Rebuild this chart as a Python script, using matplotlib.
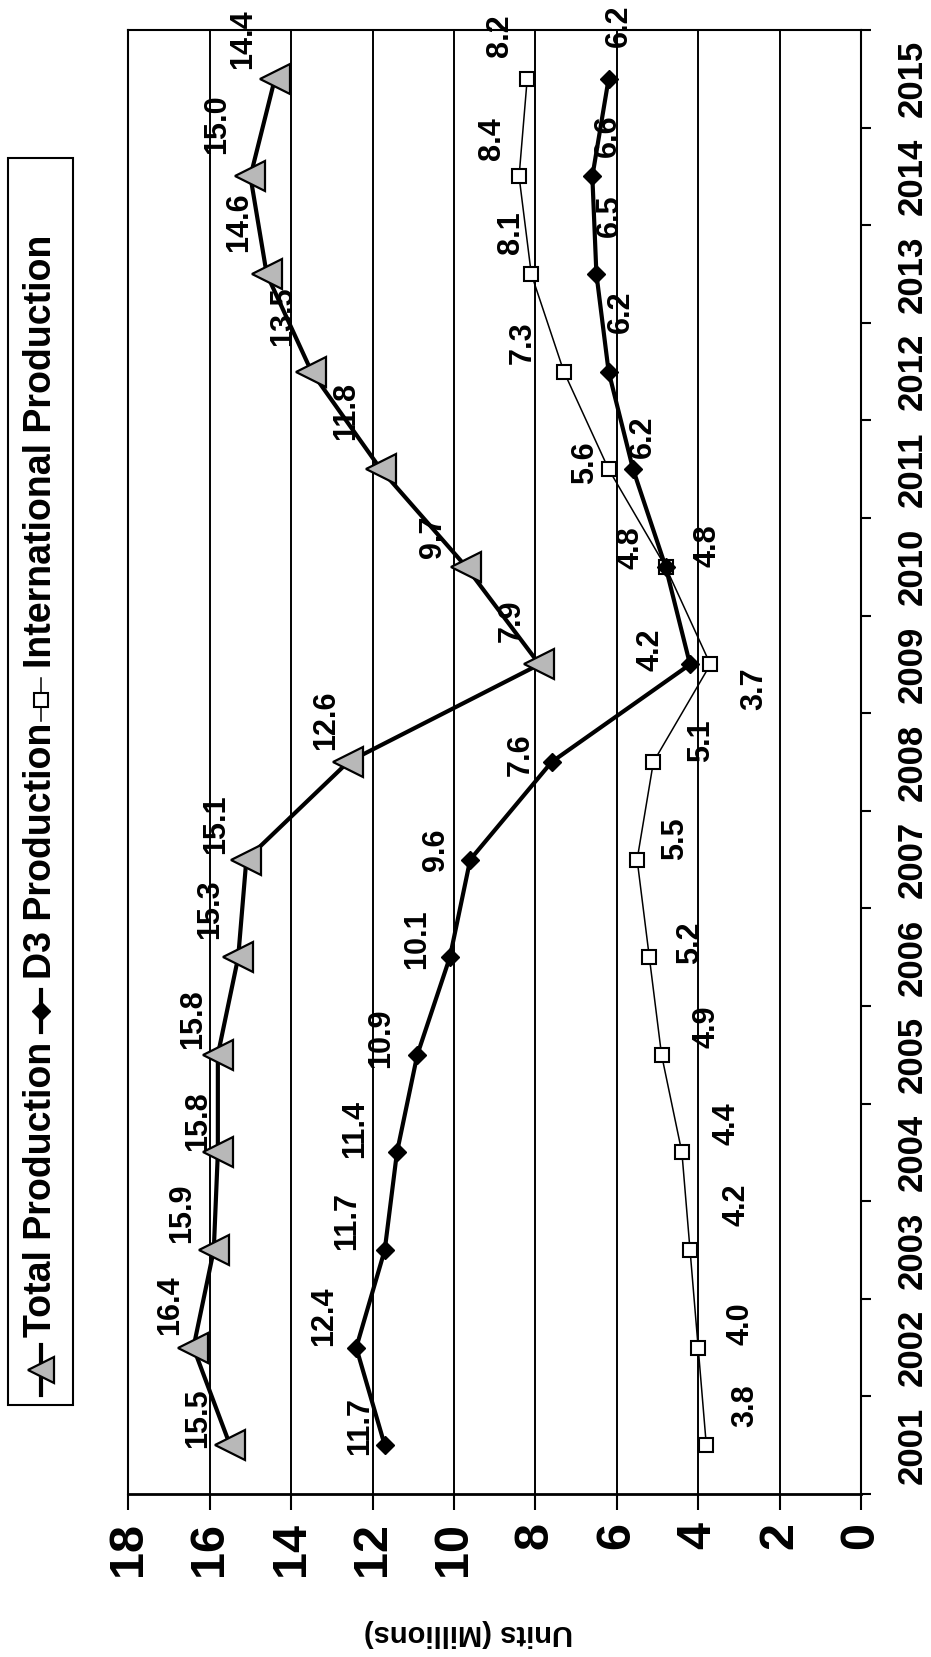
import matplotlib
matplotlib.use('Agg')
import matplotlib.pyplot as plt
from matplotlib.lines import Line2D
from matplotlib.patches import Rectangle

plt.rcParams['font.family'] = ['Liberation Sans', 'DejaVu Sans']

# ---------------- data ----------------
years = ['2001', '2002', '2003', '2004', '2005', '2006', '2007', '2008',
         '2009', '2010', '2011', '2012', '2013', '2014', '2015']
total = [15.5, 16.4, 15.9, 15.8, 15.8, 15.3, 15.1, 12.6, 7.9, 9.7, 11.8, 13.5, 14.6, 15.0, 14.4]
d3 = [11.7, 12.4, 11.7, 11.4, 10.9, 10.1, 9.6, 7.6, 4.2, 4.8, 5.6, 6.2, 6.5, 6.6, 6.2]
intl = [3.8, 4.0, 4.2, 4.4, 4.9, 5.2, 5.5, 5.1, 3.7, 4.8, 6.2, 7.3, 8.1, 8.4, 8.2]
total_labels = ['15.5', '16.4', '15.9', '15.8', '15.8', '15.3', '15.1', '12.6', '7.9', '9.7',
                '11.8', '13.5', '14.6', '15.0', '14.4']
d3_labels = ['11.7', '12.4', '11.7', '11.4', '10.9', '10.1', '9.6', '7.6', '4.2', '4.8',
             '6.2', '6.2', '6.5', '6.6', '6.2']
intl_labels = ['3.8', '4.0', '4.2', '4.4', '4.9', '5.2', '5.5', '5.1', '3.7', '4.8',
               '5.6', '7.3', '8.1', '8.4', '8.2']
value_ticks = [0, 2, 4, 6, 8, 10, 12, 14, 16, 18]
series_names = ['Total Production', 'D3 Production', 'International Production']
axis_title = 'Units (Millions)'

# label placement offsets (value units, category units)
total_dv = [0.78, 0.57, 0.78, 0.49, 0.61, 0.70, 0.74, 0.53, 0.69, 0.82, 0.86, 0.70, 0.67, 0.82, 0.78]
total_dy = [0.28, 0.43, 0.38, 0.32, 0.37, 0.49, 0.36, 0.43, 0.45, 0.31, 0.60, 0.57, 0.53, 0.53, 0.41]
d3_dv = [0.61, 0.79, 0.93, 1.03, 0.88, 0.80, 0.83, 0.76, 0.98, 0.86, -0.25, -0.30, -0.33, -0.37, -0.25]
d3_dy = [0.20, 0.32, 0.30, 0.24, 0.17, 0.18, 0.10, 0.08, 0.15, 0.20, 0.33, 0.61, 0.60, 0.42, 0.54]
intl_dv = [-0.95, -1.05, -1.15, -1.10, -1.10, -1.00, -0.93, -1.17, -1.08, -1.02, 0.59, 1.00, 0.51, 0.66, 0.66]
intl_dy = [0.41, 0.25, 0.46, 0.29, 0.29, 0.15, 0.21, 0.22, -0.25, 0.22, 0.07, 0.30, 0.42, 0.39, 0.44]

# ---------------- figure ----------------
W, H = 931, 1657
fig = plt.figure(figsize=(W / 100, H / 100), dpi=100)
fig.patch.set_facecolor('white')


def fx(px):
    return px / W


def fy(py):
    return 1 - py / H


ax = fig.add_axes([fx(128.3), fy(1494), fx(861) - fx(128.3), fy(30) - fy(1494)])
pos = list(range(len(years)))

ax.plot(intl, pos, color='black', lw=1.1, marker='s', ms=10, mfc='white',
        mec='black', mew=1.5, zorder=3)
ax.plot(d3, pos, color='black', lw=3.0, marker='D', ms=9, mfc='black',
        mec='black', mew=1.0, zorder=3.2)
ax.plot(total, pos, color='black', lw=3.0, marker='<', ms=21, mfc='#b8b8b8',
        mec='black', mew=1.6, zorder=3.4)

lab_kw = dict(rotation=90, ha='center', va='center', fontsize=22,
              fontweight='bold', color='black', zorder=2.6)
for i in pos:
    ax.text(total[i] + total_dv[i], i + total_dy[i], total_labels[i], **lab_kw)
    ax.text(d3[i] + d3_dv[i], i + d3_dy[i], d3_labels[i], **lab_kw)
    ax.text(intl[i] + intl_dv[i], i + intl_dy[i], intl_labels[i], **lab_kw)

ax.set_xlim(18, 0)
ax.set_ylim(-0.5, len(years) - 0.5)

ax.set_xticks(value_ticks)
ax.set_xticklabels([str(v) for v in value_ticks], rotation=90, fontsize=35,
                   fontweight='bold')
ax.tick_params(axis='x', direction='out', length=11.5, width=1.5, pad=9)
ax.grid(axis='x', color='black', linewidth=1.4, zorder=1)
ax.set_axisbelow(True)

ax.yaxis.tick_right()
ax.set_yticks([i - 0.5 for i in range(len(years) + 1)])
ax.set_yticklabels([])
ax.set_yticks(pos, minor=True)
ax.set_yticklabels(years, minor=True, rotation=90, fontsize=25,
                   fontweight='bold', va='center')
ax.tick_params(axis='y', which='major', direction='out', length=7, width=1.5,
               right=True, left=False)
ax.tick_params(axis='y', which='minor', length=0, pad=25, right=True,
               left=False, labelright=True, labelleft=False)

for s in ['left', 'top', 'right']:
    ax.spines[s].set_linewidth(1.5)
ax.spines['bottom'].set_linewidth(2.0)

fig.text(fx(468), fy(1633), axis_title, rotation=180, ha='center', va='center',
         fontsize=21, fontweight='bold')

# ---------------- legend (rotated) ----------------
fig.add_artist(Rectangle((fx(8), fy(1405)), fx(73) - fx(8), fy(158) - fy(1405),
                         transform=fig.transFigure, fill=False,
                         edgecolor='black', linewidth=1.5))
leg_x = 41
entries = [
    (1395, 1345, 1337, dict(marker='<', ms=19, mfc='#b8b8b8', mec='black', mew=1.6), 3.0),
    (1032, 990, 979, dict(marker='D', ms=9, mfc='black', mec='black', mew=1.0), 3.0),
    (721, 678, 668, dict(marker='s', ms=10, mfc='white', mec='black', mew=1.5), 1.1),
]
for (y0, y1, ty, mk, lw), name in zip(entries, series_names):
    fig.add_artist(Line2D([fx(leg_x), fx(leg_x)], [fy(y0), fy(y1)],
                          transform=fig.transFigure, color='black', lw=lw))
    fig.add_artist(Line2D([fx(leg_x)], [fy((y0 + y1) / 2)],
                          transform=fig.transFigure, linestyle='none', **mk))
    fig.text(fx(leg_x), fy(ty), name, rotation=90, ha='center', va='bottom',
             fontsize=27, fontweight='bold')

fig.savefig('out.png', dpi=100)
